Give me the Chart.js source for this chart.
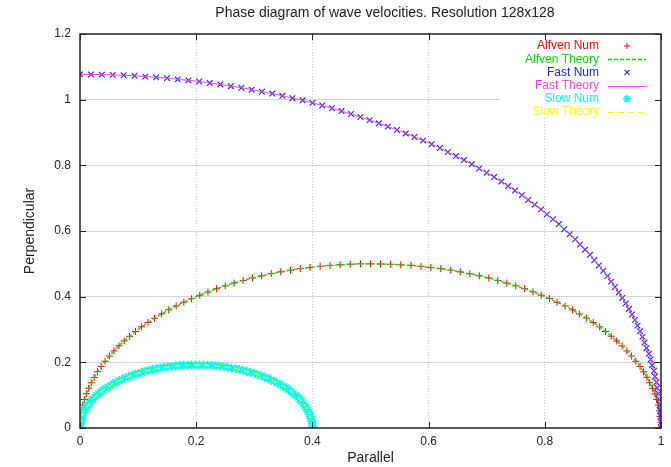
<!DOCTYPE html>
<html>
<head>
<meta charset="utf-8">
<title>Phase diagram</title>
<script src="https://cdn.jsdelivr.net/npm/chart.js@4.4.1/dist/chart.umd.min.js"></script>
<style>
  html, body { margin: 0; padding: 0; background: #fff; }
</style>
</head>
<body>
<canvas id="phase-chart" width="671" height="467"></canvas>
<script>
// propagation angle to the field, degrees
const angles = [
  0, 1, 2, 3, 4, 5, 6, 7, 8, 9, 10, 11, 12, 13, 14, 15, 16, 17, 18, 19,
  20, 21, 22, 23, 24, 25, 26, 27, 28, 29, 30, 31, 32, 33, 34, 35, 36, 37, 38, 39,
  40, 41, 42, 43, 44, 45, 46, 47, 48, 49, 50, 51, 52, 53, 54, 55, 56, 57, 58, 59,
  60, 61, 62, 63, 64, 65, 66, 67, 68, 69, 70, 71, 72, 73, 74, 75, 76, 77, 78, 79,
  80, 81, 82, 83, 84, 85, 86, 87, 88, 89, 90
];

// phase speeds at each angle
const alfvenSpeed = [
  1.000, 1.000, 0.999, 0.999, 0.998, 0.996, 0.995, 0.993, 0.990, 0.988,
  0.985, 0.982, 0.978, 0.974, 0.970, 0.966, 0.961, 0.956, 0.951, 0.946,
  0.940, 0.934, 0.927, 0.921, 0.914, 0.906, 0.899, 0.891, 0.883, 0.875,
  0.866, 0.857, 0.848, 0.839, 0.829, 0.819, 0.809, 0.799, 0.788, 0.777,
  0.766, 0.755, 0.743, 0.731, 0.719, 0.707, 0.695, 0.682, 0.669, 0.656,
  0.643, 0.629, 0.616, 0.602, 0.588, 0.574, 0.559, 0.545, 0.530, 0.515,
  0.500, 0.485, 0.469, 0.454, 0.438, 0.423, 0.407, 0.391, 0.375, 0.358,
  0.342, 0.326, 0.309, 0.292, 0.276, 0.259, 0.242, 0.225, 0.208, 0.191,
  0.174, 0.156, 0.139, 0.122, 0.105, 0.087, 0.070, 0.052, 0.035, 0.017,
  0.000
];
const fastSpeed = [
  1.000, 1.000, 1.000, 1.000, 1.000, 1.001, 1.001, 1.001, 1.002, 1.002,
  1.003, 1.003, 1.004, 1.005, 1.005, 1.006, 1.007, 1.008, 1.009, 1.010,
  1.011, 1.012, 1.013, 1.014, 1.015, 1.016, 1.017, 1.019, 1.020, 1.021,
  1.022, 1.024, 1.025, 1.026, 1.028, 1.029, 1.030, 1.032, 1.033, 1.034,
  1.036, 1.037, 1.038, 1.040, 1.041, 1.042, 1.044, 1.045, 1.046, 1.047,
  1.049, 1.050, 1.051, 1.052, 1.054, 1.055, 1.056, 1.057, 1.058, 1.059,
  1.060, 1.061, 1.062, 1.063, 1.064, 1.065, 1.066, 1.067, 1.068, 1.069,
  1.069, 1.070, 1.071, 1.071, 1.072, 1.073, 1.073, 1.074, 1.074, 1.075,
  1.075, 1.075, 1.076, 1.076, 1.076, 1.077, 1.077, 1.077, 1.077, 1.077,
  1.077
];
const slowSpeed = [
  0.400, 0.400, 0.400, 0.399, 0.399, 0.398, 0.397, 0.396, 0.395, 0.394,
  0.393, 0.391, 0.390, 0.388, 0.386, 0.384, 0.382, 0.380, 0.377, 0.375,
  0.372, 0.369, 0.366, 0.363, 0.360, 0.357, 0.353, 0.350, 0.346, 0.343,
  0.339, 0.335, 0.331, 0.327, 0.323, 0.318, 0.314, 0.310, 0.305, 0.301,
  0.296, 0.291, 0.286, 0.281, 0.276, 0.271, 0.266, 0.261, 0.256, 0.251,
  0.245, 0.240, 0.234, 0.229, 0.223, 0.218, 0.212, 0.206, 0.200, 0.194,
  0.189, 0.183, 0.177, 0.171, 0.165, 0.159, 0.153, 0.146, 0.140, 0.134,
  0.128, 0.122, 0.115, 0.109, 0.103, 0.097, 0.090, 0.084, 0.077, 0.071,
  0.065, 0.058, 0.052, 0.045, 0.039, 0.032, 0.026, 0.019, 0.013, 0.006,
  0.000
];

const xTicks = [0, 0.2, 0.4, 0.6, 0.8, 1];
const yTicks = [0, 0.2, 0.4, 0.6, 0.8, 1, 1.2];

const FONT = "'Liberation Sans', Arial, sans-serif";

// speed along a direction -> (parallel, perpendicular)
function toPoints(speeds) {
  return angles.map((deg, i) => {
    const a = deg * Math.PI / 180;
    return { x: speeds[i] * Math.cos(a), y: speeds[i] * Math.sin(a) };
  });
}

const datasets = [
  {
    label: "Alfven Num", data: toPoints(alfvenSpeed), showLine: false,
    pointStyle: "cross", pointRadius: 3.5, borderColor: "#ff0000", borderWidth: 1, order: 6
  },
  {
    label: "Alfven Theory", data: toPoints(alfvenSpeed), showLine: true, pointRadius: 0,
    borderColor: "#00e000", borderWidth: 1.3, borderDash: [4, 2], order: 5
  },
  {
    label: "Fast Num", data: toPoints(fastSpeed), showLine: false,
    pointStyle: "crossRot", pointRadius: 4, borderColor: "#2020ff", borderWidth: 1.1, order: 4
  },
  {
    label: "Fast Theory", data: toPoints(fastSpeed), showLine: true, pointRadius: 0,
    borderColor: "#ff40ff", borderWidth: 1, order: 3
  },
  {
    label: "Slow Num", data: toPoints(slowSpeed), showLine: false,
    pointStyle: "star", pointRadius: 4.5, borderColor: "#00ffff", borderWidth: 1.5, order: 2
  },
  {
    label: "Slow Theory", data: toPoints(slowSpeed), showLine: true, pointRadius: 0,
    borderColor: "#ffff00", borderWidth: 1.2, borderDash: [6, 4], order: 1
  }
];
datasets.forEach(d => { d.backgroundColor = d.borderColor; d.fill = false; d.tension = 0; });

// white key box, frame with inward ticks, title and key entries
const gnuplotLook = {
  id: "gnuplotLook",
  beforeDatasetsDraw(chart) {
    const ctx = chart.ctx;
    ctx.save();
    ctx.fillStyle = "#fff";
    ctx.fillRect(500, chart.chartArea.top + 1, chart.chartArea.right - 501, 83);
    ctx.restore();
  },
  afterDatasetsDraw(chart) {
    const ctx = chart.ctx;
    const { left, right, top, bottom } = chart.chartArea;
    const xs = chart.scales.x, ys = chart.scales.y;
    ctx.save();

    ctx.strokeStyle = "#222";
    ctx.lineWidth = 1.5;
    ctx.strokeRect(left, top, right - left, bottom - top);
    ctx.lineWidth = 1;
    ctx.beginPath();
    xTicks.forEach(v => {
      const px = Math.round(xs.getPixelForValue(v)) + 0.5;
      ctx.moveTo(px, bottom); ctx.lineTo(px, bottom - 6);
      ctx.moveTo(px, top); ctx.lineTo(px, top + 6);
    });
    yTicks.forEach(v => {
      const py = Math.round(ys.getPixelForValue(v)) + 0.5;
      ctx.moveTo(left, py); ctx.lineTo(left + 6, py);
      ctx.moveTo(right, py); ctx.lineTo(right - 6, py);
    });
    ctx.stroke();

    ctx.fillStyle = "#222";
    ctx.font = "14px " + FONT;
    ctx.textAlign = "center";
    ctx.textBaseline = "middle";
    ctx.fillText("Phase diagram of wave velocities. Resolution 128x128", 385, 13);

    // key
    ctx.font = "12px " + FONT;
    ctx.textAlign = "right";
    chart.data.datasets.forEach((d, i) => {
      const y = 46 + i * 13.2;
      ctx.fillStyle = d.borderColor;
      ctx.fillText(d.label, 599, y);
      if (d.showLine) {
        ctx.strokeStyle = d.borderColor;
        ctx.lineWidth = d.borderWidth;
        ctx.setLineDash(d.borderDash || []);
        ctx.beginPath();
        ctx.moveTo(608, Math.round(y) + 0.5);
        ctx.lineTo(646, Math.round(y) + 0.5);
        ctx.stroke();
        ctx.setLineDash([]);
      } else {
        ctx.strokeStyle = d.borderColor;
        ctx.fillStyle = d.borderColor;
        ctx.lineWidth = d.borderWidth;
        Chart.helpers.drawPoint(ctx, { pointStyle: d.pointStyle, radius: d.pointRadius - 0.5, rotation: 0, borderWidth: d.borderWidth }, 627, y);
      }
    });
    ctx.restore();
  }
};

const config = {
  type: "scatter",
  data: { datasets: datasets },
  options: {
    responsive: false,
    animation: false,
    layout: { padding: { top: 34, right: 10, left: 0, bottom: 0 } },
    plugins: {
      legend: { display: false },
      tooltip: { enabled: false },
      title: { display: false }
    },
    scales: {
      x: {
        type: "linear",
        min: 0,
        max: 1,
        afterBuildTicks: s => { s.ticks = xTicks.map(v => ({ value: v })); },
        afterFit: s => { s.height = 39; },
        ticks: {
          callback: v => String(v),
          color: "#222",
          font: { family: FONT, size: 12 },
          padding: 6,
          maxRotation: 0
        },
        grid: {
          color: ctx => (ctx.tick && (ctx.tick.value === 0 || ctx.tick.value === 1)) ? "rgba(0,0,0,0)" : "#c8c8c8",
          lineWidth: 1,
          drawTicks: false
        },
        border: { display: false, dash: [1, 2] },
        title: {
          display: true,
          text: "Parallel",
          color: "#222",
          font: { family: FONT, size: 14 },
          padding: { top: 0, bottom: 0 }
        }
      },
      y: {
        type: "linear",
        min: 0,
        max: 1.2,
        afterBuildTicks: s => { s.ticks = yTicks.map(v => ({ value: v })); },
        afterFit: s => { s.width = 80; },
        ticks: {
          callback: v => String(v),
          color: "#222",
          font: { family: FONT, size: 12 },
          padding: 9
        },
        grid: {
          color: ctx => (ctx.tick && (ctx.tick.value === 0 || ctx.tick.value === 1.2)) ? "rgba(0,0,0,0)" : "#d6d6d6",
          lineWidth: 1,
          drawTicks: false
        },
        border: { display: false },
        title: {
          display: true,
          text: "Perpendicular",
          color: "#222",
          font: { family: FONT, size: 14 },
          padding: { top: 22, bottom: 0 }
        }
      }
    }
  },
  plugins: [gnuplotLook]
};

const phaseChart = new Chart(document.getElementById("phase-chart").getContext("2d"), config);
</script>
</body>
</html>
